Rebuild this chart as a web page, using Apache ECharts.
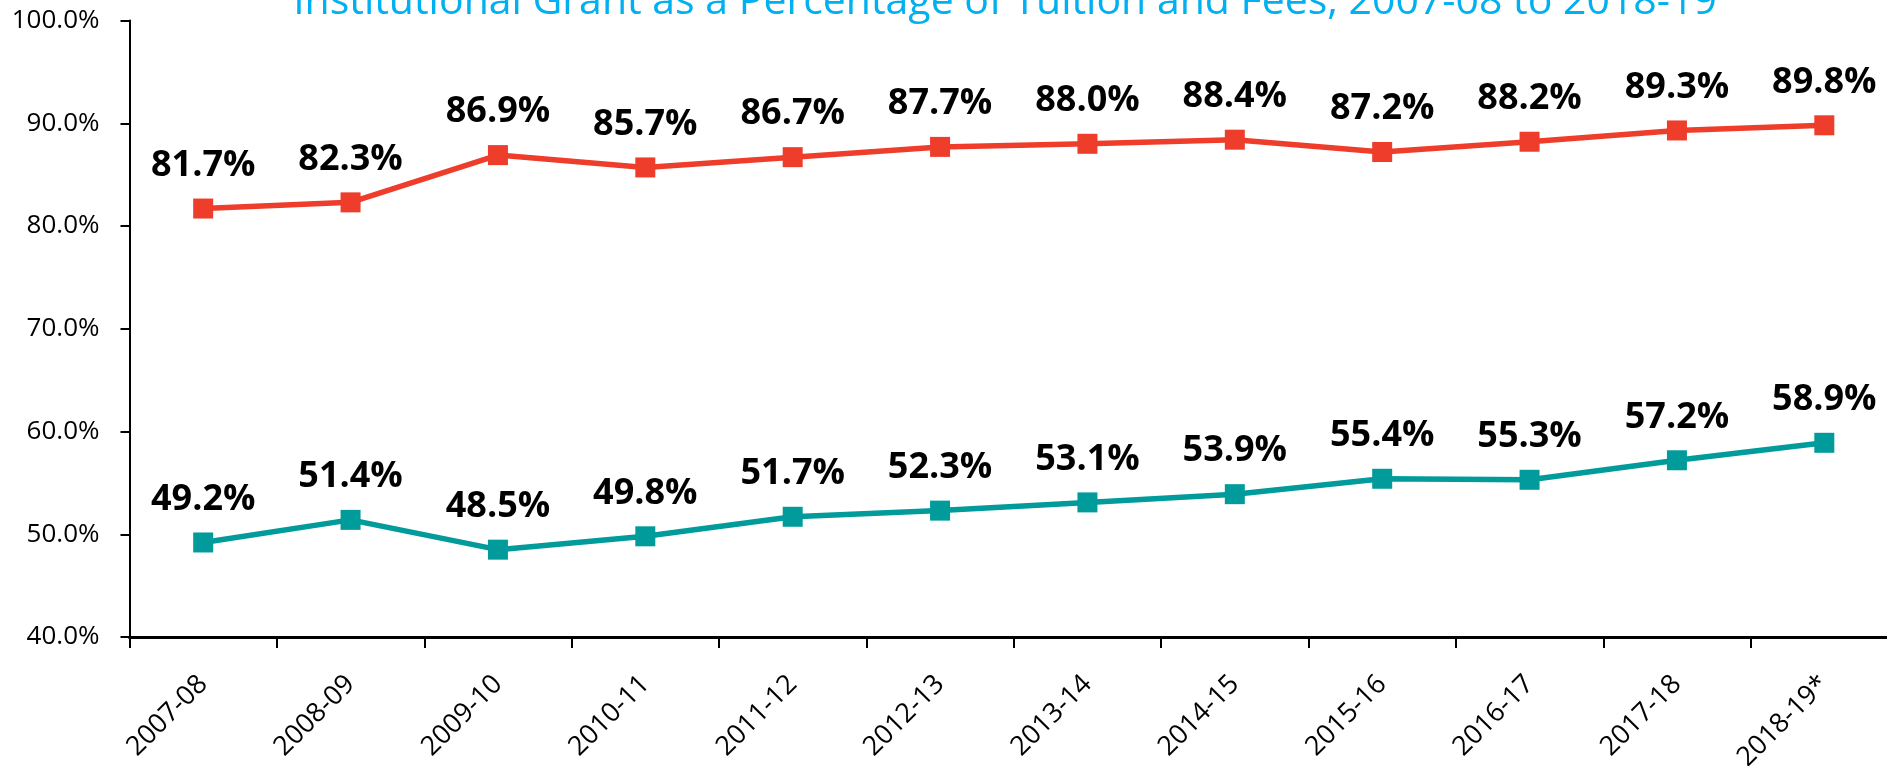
<!DOCTYPE html>
<html>
<head>
<meta charset="utf-8">
<script src="https://cdn.jsdelivr.net/npm/echarts@6/dist/echarts.min.js"></script>
<style>
html,body{margin:0;padding:0;background:#fff;}
#chart{width:1887px;height:766px;}
</style>
</head>
<body>
<div id="chart"></div>
<script>
const titleText = 'Institutional Grant as a Percentage of Tuition and Fees, 2007-08 to 2018-19';
const categories = ['2007-08','2008-09','2009-10','2010-11','2011-12','2012-13','2013-14','2014-15','2015-16','2016-17','2017-18','2018-19*'];
const upperSeries = [81.7, 82.3, 86.9, 85.7, 86.7, 87.7, 88.0, 88.4, 87.2, 88.2, 89.3, 89.8];
const lowerSeries = [49.2, 51.4, 48.5, 49.8, 51.7, 52.3, 53.1, 53.9, 55.4, 55.3, 57.2, 58.9];
const yTicks = [40, 50, 60, 70, 80, 90, 100];

const FONT = 'Open Sans';
const chart = echarts.init(document.getElementById('chart'), null, {renderer: 'canvas'});

function lineSeries(name, data, color) {
  return {
    name: name,
    type: 'line',
    data: data,
    symbol: 'rect',
    symbolSize: 20,
    lineStyle: {color: color, width: 5.5},
    itemStyle: {color: color},
    label: {
      show: true,
      position: 'top',
      distance: 15,
      formatter: p => p.value.toFixed(1) + '%',
      fontFamily: FONT,
      fontWeight: 'bold',
      fontSize: 36,
      color: '#000'
    },
    emphasis: {disabled: true},
    animation: false
  };
}

chart.setOption({
  backgroundColor: '#fff',
  animation: false,
  title: {
    text: titleText,
    left: 1000,
    textAlign: 'center',
    top: -23,
    textStyle: {fontFamily: FONT, fontWeight: 'normal', fontSize: 41, color: '#00B0F0'}
  },
  grid: {left: 129.5, right: -11, top: 20.5, bottom: 129, containLabel: false, outerBoundsMode: 'none'},
  xAxis: {
    type: 'category',
    data: categories,
    boundaryGap: true,
    axisLine: {lineStyle: {color: '#000', width: 3}},
    axisTick: {show: true, alignWithLabel: false, length: 11, lineStyle: {color: '#000', width: 2}},
    axisLabel: {rotate: 45, margin: 43, fontFamily: FONT, fontSize: 27, color: '#000', interval: 0},
    splitLine: {show: false}
  },
  yAxis: {
    type: 'value',
    min: yTicks[0],
    max: yTicks[yTicks.length - 1],
    interval: yTicks[1] - yTicks[0],
    axisLine: {show: true, lineStyle: {color: '#000', width: 2}},
    axisTick: {show: true, length: 9, lineStyle: {color: '#000', width: 2}},
    axisLabel: {margin: 30, fontFamily: FONT, fontSize: 26, color: '#000', formatter: v => v.toFixed(1) + '%'},
    splitLine: {show: false}
  },
  series: [
    lineSeries('Upper', upperSeries, '#EE3D2B'),
    lineSeries('Lower', lowerSeries, '#009B9A')
  ]
});
</script>
</body>
</html>
